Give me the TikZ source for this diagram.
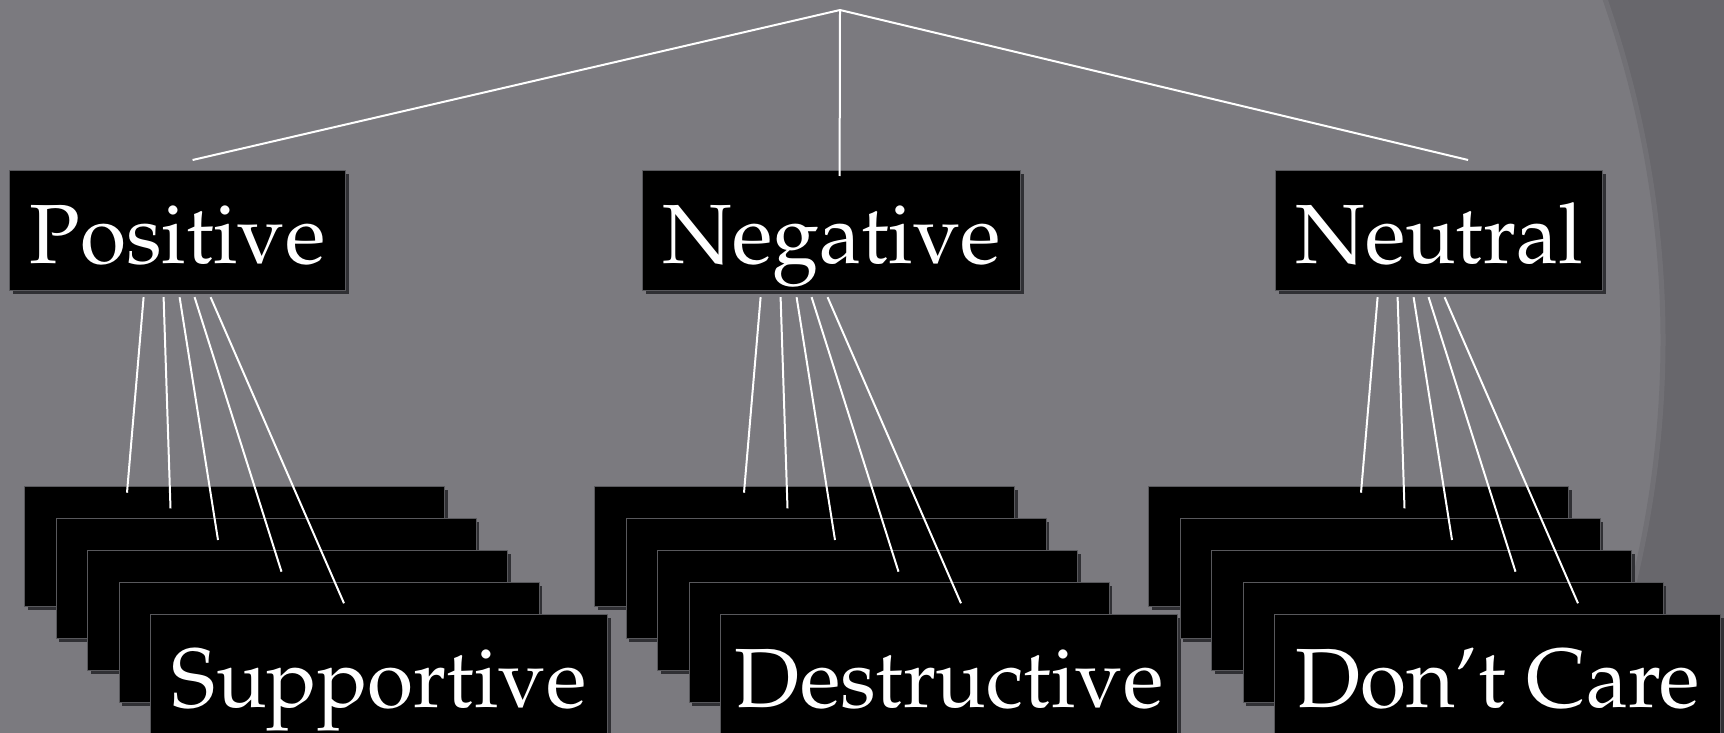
\documentclass[tikz,border=0pt]{standalone}
\IfFileExists{mathpazo.sty}{%
  \usepackage[T1]{fontenc}
  \usepackage{mathpazo}
  \newcommand{\boxfont}{\fontsize{84}{100}\selectfont}}{%
  \usepackage{fontspec}
  \setmainfont{Liberation Serif}
  \newcommand{\boxfont}{\fontsize{89}{100}\selectfont}}
\usepackage{xcolor}
\usepackage{tikz}
\usetikzlibrary{shadows}

\definecolor{slidebg}{RGB}{123,122,127}
\definecolor{slidedark}{RGB}{104,103,108}
\definecolor{sliderim}{RGB}{113,112,117}
\definecolor{boxedge}{RGB}{88,88,92}
\definecolor{boxshadow}{RGB}{48,48,52}

\begin{document}
\begin{tikzpicture}[
        x=1pt, y=-1pt,
        box/.style={rectangle,fill=black,draw=boxedge,line width=1.2pt,
                    text=white,inner sep=0pt,minimum height=120pt,
                    text height=93pt,text depth=27pt,anchor=north west,
                    font=\boxfont,
                    drop shadow={shadow xshift=3pt,shadow yshift=-3pt,
                                 fill=boxshadow,opacity=1}},
        card/.style={box,minimum width=420pt},
        link/.style={white,line width=2pt}
      ]
      \useasboundingbox (0,0) rectangle (1724,733);
      \begin{scope}
        \clip (0,0) rectangle (1724,733);
        \fill[slidedark] (0,0) rectangle (1724,733);
        \fill[slidebg] (-35,340) ellipse (1700pt and 1313pt);
        \draw[sliderim,line width=5pt] (-35,340) ellipse (1698pt and 1311pt);
      \end{scope}

      \node[box,minimum width=336pt] (Pos) at (9,170) {Positive};
      \node[box,minimum width=378pt] (Neg) at (642,170) {Negative};
      \node[box,minimum width=327pt] (Neu) at (1275,170) {Neutral};

      \coordinate (root) at (840,10);
      \draw[link] (root) -- ([shift={(15,-10)}]Pos.north);
      \draw[link] (root) -- ([shift={(8,6)}]Neg.north);
      \draw[link] (root) -- ([shift={(29,-10)}]Neu.north);

      \foreach \g/\cx/\ds/\de/\w/\leaf in {Pos/24/0/0/457/Supportive,
          Neg/594/-37/47/457/Destructive, Neu/1148/-27.5/110/446/{Don't Care}} {
        \foreach \k in {1,...,4}
          \node[card] (\g-\k) at ({\cx+31.5*(\k-1)},{486+32*(\k-1)}) {};
        \node[card,minimum width=\w pt] (\g-5) at ({\cx+126},614) {\leaf};
        \foreach \k/\sx/\ex/\ey in {1/-34/103/6.7, 2/-14/115/-9.7, 3/2/131/-10,
            4/17/163/-10.3, 5/33/194/-10.7}
          \draw[link] ([shift={({\sx+(\ds)},6)}]\g.south)
                   -- ([shift={({\ex+(\de)},\ey)}]\g-\k.north west);
      }
    \end{tikzpicture}
\end{document}
